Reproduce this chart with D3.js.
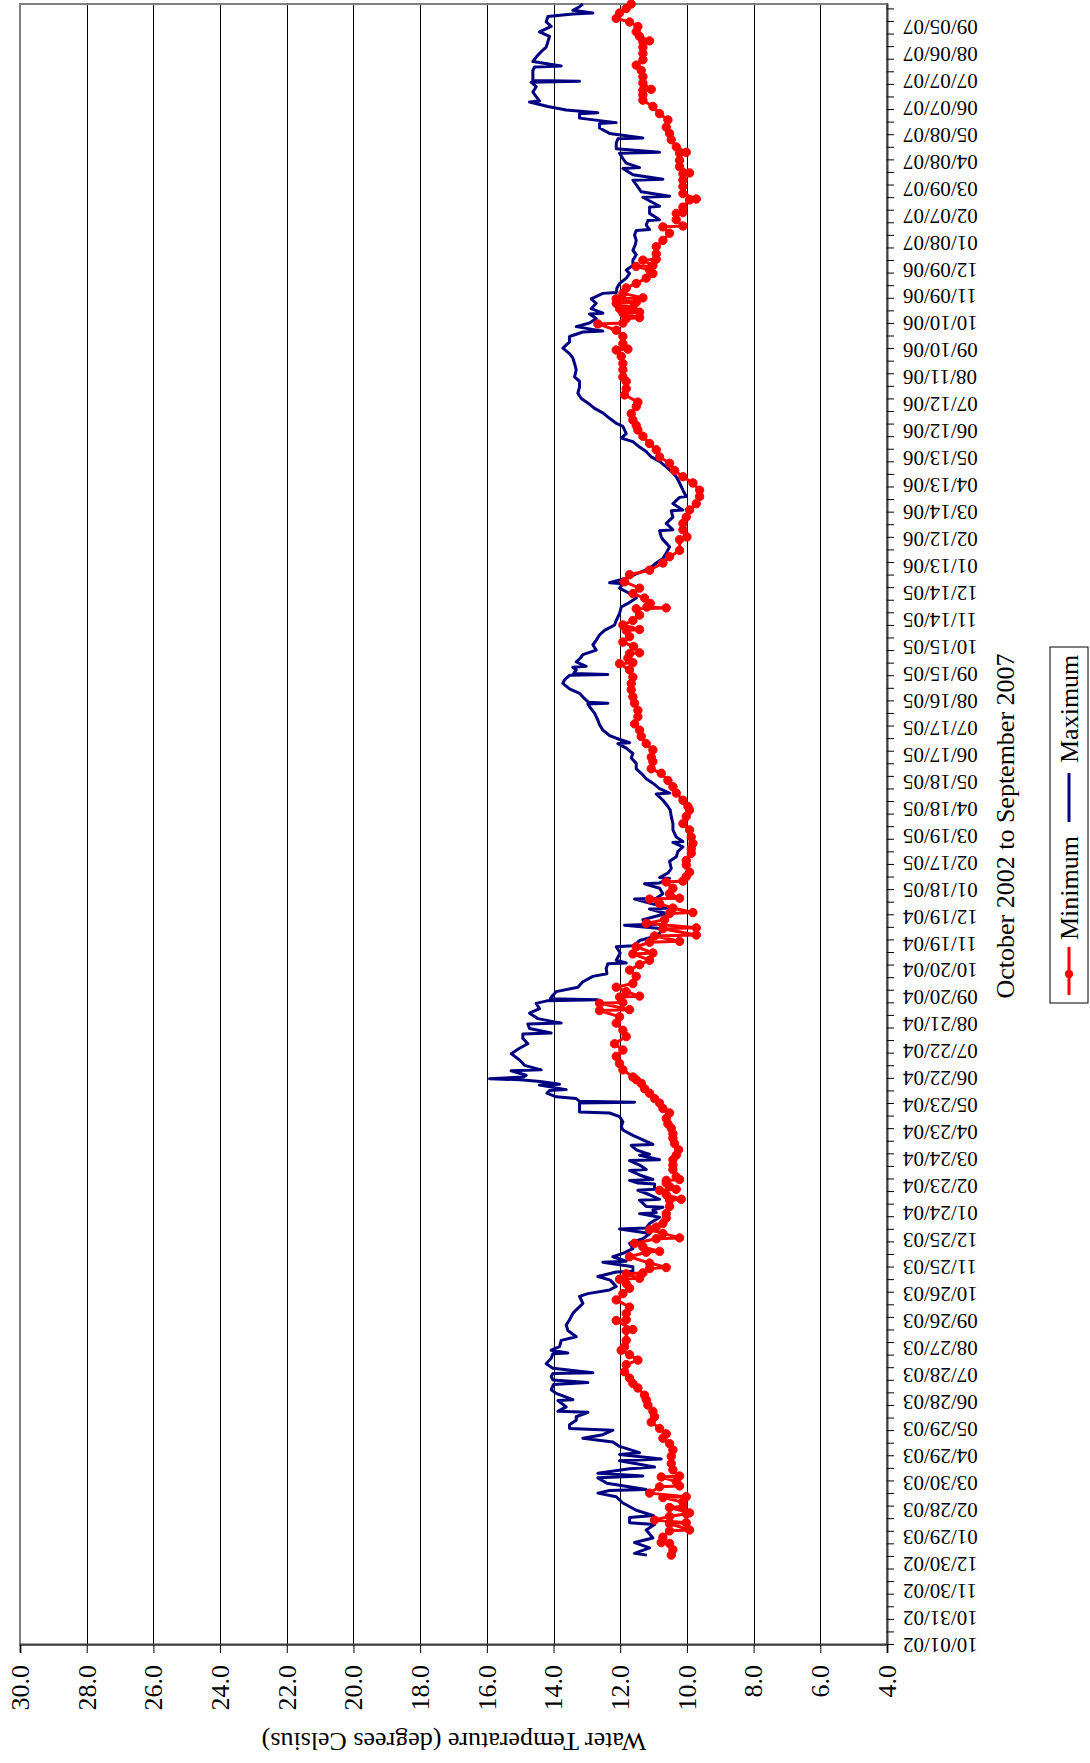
<!DOCTYPE html>
<html><head><meta charset="utf-8">
<script src="https://cdn.jsdelivr.net/npm/d3@7"></script>
<style>body{margin:0;background:#fff}svg{display:block}</style>
</head><body><svg id="c" width="1090" height="1763"></svg>
<script>
// Category axis labels (one every 30 days, day index from 10/01/02)
const dateLabels = ["10/01/02","10/31/02","11/30/02","12/30/02","01/29/03","02/28/03","03/30/03","04/29/03","05/29/03","06/28/03","07/28/03","08/27/03","09/26/03","10/26/03","11/25/03","12/25/03","01/24/04","02/23/04","03/24/04","04/23/04","05/23/04","06/22/04","07/22/04","08/21/04","09/20/04","10/20/04","11/19/04","12/19/04","01/18/05","02/17/05","03/19/05","04/18/05","05/18/05","06/17/05","07/17/05","08/16/05","09/15/05","10/15/05","11/14/05","12/14/05","01/13/06","02/12/06","03/14/06","04/13/06","05/13/06","06/12/06","07/12/06","08/11/06","09/10/06","10/10/06","11/09/06","12/09/06","01/08/07","02/07/07","03/09/07","04/08/07","05/08/07","06/07/07","07/07/07","08/06/07","09/05/07"];
const tempTicks = [4,6,8,10,12,14,16,18,20,22,24,26,28,30];
const totalDays = 1826;

// Maximum water temperature: day index (days since 10/01/02) and value
const maxDay = [100,102,108,114,119,128,134,136,142,144,150,158,165,169,172,173,180,186,188,191,196,198,205,207,212,214,221,226,230,234,239,241,245,250,254,259,260,265,272,273,280,284,290,292,295,299,302,303,308,313,319,324,325,
328,332,339,343,350,356,362,369,373,380,388,391,395,399,406,410,415,416,421,426,427,432,436,441,447,452,458,463,464,469,476,480,481,484,487,488,495,496,501,506,507,513,514,517,518,523,528,529,534,539,540,545,546,551,556,557,562,567,573,577,582,588,592,593,597,601,603,604,605,608,610,614,617,618,623,624,627,
629,630,632,634,639,640,645,651,658,664,669,675,680,681,686,691,692,697,703,708,714,717,718,719,723,727,732,738,744,747,753,758,759,762,770,777,778,781,784,788,792,797,801,802,807,814,819,820,825,830,831,836,842,847,848,853,854,859,864,872,877,883,888,893,894,899,907,914,922,
929,933,940,947,948,953,959,964,970,975,981,987,992,998,1003,1004,1009,1012,1018,1024,1029,1037,1044,1047,1048,1049,1053,1059,1064,1070,1074,1079,1080,1081,1085,1088,1089,1094,1098,1102,1107,1113,1118,1124,1129,1135,1140,1148,1155,1159,1165,1170,1176,1181,1182,1187,1192,1198,1204,1209,1215,1222,
1230,1233,1240,1241,1248,1255,1262,1263,1270,1277,1278,1285,1293,1300,1306,1311,1317,1322,1328,1333,1339,1343,1348,1356,1359,1365,1371,1376,1382,1387,1393,1400,1406,1411,1419,1426,1432,1437,1443,1450,1456,1461,1462,1467,1471,1476,1481,1482,1487,1493,1498,1504,1505,1510,1515,1521,1526,
1530,1535,1541,1547,1552,1558,1563,1569,1574,1575,1580,1585,1586,1593,1600,1601,1606,1611,1612,1617,1625,1630,1631,1636,1643,1644,1649,1654,1660,1661,1665,1671,1676,1677,1682,1688,1693,1694,1699,1704,1705,1708,1712,1717,1718,1723,1728,1734,1739,1740,1741,1745,1752,1756,1757,1762,1767,1773,1778,1784,1790,1795,1801,1806,1812,1815,1816,1819,1823,1826];
const maxTemp = [11.2,11.57,11.12,11.57,11.02,11.22,10.97,11.72,11.72,11.0,11.52,11.92,12.12,12.67,12.32,11.22,12.4,12.67,11.32,12.67,11.72,10.97,12.02,10.77,12.02,11.42,12.02,12.22,13.12,12.52,12.22,13.52,13.52,13.32,13.32,12.97,13.87,13.62,13.87,13.42,13.92,14.07,14.0,12.97,14.02,14.07,14.02,12.82,14.02,14.22,14.07,14.02,13.57,
14.07,13.82,13.77,13.32,13.57,13.62,13.52,13.42,13.32,13.12,13.22,12.97,12.32,12.12,12.3,12.67,12.12,11.62,11.62,12.52,11.82,12.22,11.9,11.62,11.72,11.32,11.1,12.02,11.22,11.12,10.82,11.42,10.92,11.02,10.72,11.22,11.42,10.82,11.12,11.47,10.97,10.97,11.47,11.72,11.02,11.42,11.72,11.22,11.42,11.72,10.82,11.42,11.12,11.52,11.67,11.02,11.32,11.62,11.92,11.97,11.92,12.02,12.32,13.22,13.22,13.22,13.22,11.57,13.22,13.32,13.92,14.2,14.12,13.62,14.42,13.82,14.4,
15.0,15.92,14.9,14.82,15.27,14.37,14.87,15.02,15.27,15.02,14.77,14.92,14.92,14.07,14.72,14.77,13.77,14.47,14.72,14.42,14.52,14.17,12.67,14.1,14.02,13.92,13.27,13.12,12.82,12.4,12.42,12.37,11.82,12.12,12.0,12.12,11.62,11.5,11.42,11.02,10.82,10.72,11.87,10.92,11.32,10.62,11.12,10.52,11.07,11.57,10.92,10.72,10.82,11.27,10.82,10.52,10.82,10.57,10.47,10.52,10.32,10.27,10.12,10.42,10.12,10.32,10.42,10.42,10.47,
10.5,10.57,10.72,10.92,10.52,10.82,11.02,11.22,11.37,11.52,11.52,11.67,11.62,11.82,12.07,11.72,12.12,12.32,12.52,12.62,12.67,12.77,12.92,12.97,12.37,12.95,13.07,13.22,13.52,13.72,13.67,13.52,12.37,13.4,13.32,13.42,13.02,13.32,13.2,13.12,12.72,12.82,12.72,12.62,12.47,12.17,12.12,12.02,11.97,11.77,11.52,11.72,12.02,11.92,12.32,11.82,11.52,11.12,10.92,10.72,10.62,10.52,
10.72,10.77,10.82,10.42,10.62,10.42,10.47,10.12,10.42,10.22,10.02,10.12,10.22,10.32,10.47,10.62,10.82,11.07,11.22,11.42,11.62,11.97,11.82,11.92,12.1,12.32,12.52,12.77,12.97,13.17,13.27,13.22,13.22,13.37,13.32,13.37,13.42,13.52,13.72,13.52,13.52,13.12,12.52,13.32,12.92,12.72,12.92,12.52,12.87,12.72,12.87,12.52,12.12,12.1,12.02,11.82,11.72,
11.82,11.62,11.62,11.52,11.62,11.55,11.52,11.57,11.52,11.12,11.22,11.17,10.82,11.12,11.12,10.82,11.07,11.32,10.52,11.37,11.52,11.62,10.72,11.62,11.92,11.42,11.82,11.92,12.02,10.82,12.12,12.12,12.07,11.32,12.32,12.62,12.62,12.12,13.22,13.22,12.67,13.62,14.17,14.72,14.42,14.52,14.62,14.52,14.67,13.22,14.62,14.62,14.62,14.57,13.77,14.62,14.52,14.37,14.22,14.17,14.12,14.42,14.07,14.22,14.17,13.42,12.82,13.42,13.22,13.12];

// Minimum water temperature: day index and value
const minDay = [100,106,113,114,120,127,128,135,136,139,143,146,147,153,154,159,164,165,169,176,177,182,187,188,195,202,210,217,224,230,235,241,248,254,260,267,273,278,286,291,297,304,312,317,323,
328,332,339,350,351,361,362,369,376,384,391,397,402,407,408,413,414,419,420,425,432,437,438,443,447,452,453,458,462,465,469,475,480,488,495,496,501,506,507,510,514,517,518,521,529,534,540,545,551,558,564,569,575,580,586,592,597,603,608,614,619,625,
629,632,640,647,655,662,669,677,684,692,699,706,707,714,715,721,722,727,732,736,744,751,757,762,769,770,777,782,783,789,790,797,798,803,807,814,815,820,825,830,831,836,842,849,850,855,860,868,873,881,886,892,899,907,914,922,
929,933,940,948,955,962,970,975,983,988,996,1003,1011,1018,1025,1033,1040,1048,1055,1063,1070,1077,1085,1092,1093,1098,1103,1104,1111,1116,1122,1129,1130,1135,1140,1146,1153,1154,1155,1159,1165,1170,1176,1183,1191,1196,1204,1211,1218,
1230,1233,1241,1248,1255,1263,1270,1278,1285,1293,1300,1307,1315,1322,1330,1337,1345,1352,1357,1363,1370,1378,1383,1391,1398,1406,1411,1419,1426,1434,1441,1442,1448,1456,1463,1470,1471,1476,1477,1482,1483,1487,1488,1493,1494,1498,1499,1504,1510,1515,1521,1526,
1530,1534,1535,1541,1542,1548,1556,1563,1571,1578,1579,1586,1593,1594,1600,1608,1609,1615,1623,1630,1637,1638,1645,1652,1660,1661,1667,1675,1682,1689,1697,1704,1712,1719,1725,1730,1731,1738,1745,1752,1758,1764,1771,1778,1784,1785,1790,1795,1801,1806,1810,1816,1821,1826];
const minTemp = [10.47,10.42,10.52,10.77,10.72,10.52,9.92,10.52,10.02,10.97,10.52,10.02,9.92,10.52,10.12,10.12,10.72,10.02,11.12,10.82,10.22,10.32,10.77,10.22,10.42,10.47,10.47,10.42,10.52,10.72,10.62,10.82,11.07,10.97,11.02,11.17,11.22,11.27,11.47,11.62,11.72,11.87,11.82,11.47,11.72,
11.97,11.87,11.82,11.82,11.62,12.12,11.82,11.82,11.72,12.12,11.92,11.72,11.82,12.02,11.42,11.82,11.32,11.12,10.62,11.12,11.72,11.22,10.82,11.32,11.57,10.92,10.22,10.72,11.12,10.92,10.72,10.62,10.62,10.52,10.52,10.17,10.62,10.82,10.32,10.52,10.62,10.62,10.22,10.32,10.42,10.42,10.42,10.32,10.25,10.37,10.42,10.42,10.47,10.57,10.62,10.52,10.72,10.82,10.97,11.12,11.27,11.37,
11.52,11.62,11.92,12.02,12.12,11.92,12.17,11.82,11.92,12.12,12.02,12.62,11.72,12.62,11.92,12.02,11.42,11.82,12.12,11.62,11.52,11.72,11.42,11.12,11.62,11.02,11.52,11.12,10.22,10.97,9.72,10.72,9.72,11.22,10.67,10.52,9.82,10.42,10.82,11.12,10.22,10.52,10.42,10.62,10.12,10.02,9.92,10.02,10.02,9.87,9.87,9.82,9.87,9.92,10.12,10.02,
9.92,9.97,10.12,10.32,10.42,10.57,10.77,11.07,11.02,11.07,11.02,11.22,11.37,11.42,11.57,11.47,11.47,11.57,11.62,11.67,11.67,11.62,11.72,12.02,11.62,11.77,11.72,11.42,11.6,11.92,11.72,11.82,11.42,11.92,11.62,11.42,11.52,10.62,11.2,11.1,11.27,11.62,11.42,11.87,11.72,11.12,10.72,10.52,10.22,
10.22,10.0,10.12,10.12,10.02,9.92,9.72,9.62,9.62,9.82,10.12,10.37,10.52,10.82,10.92,11.12,11.32,11.47,11.52,11.62,11.67,11.52,11.47,11.87,11.82,11.82,11.92,11.92,11.92,11.97,12.12,11.77,11.92,11.92,12.12,12.67,11.92,11.82,11.42,11.92,11.42,12.02,11.62,12.12,11.52,12.12,11.32,11.92,11.82,11.52,11.22,11.02,
11.12,11.52,11.02,11.32,10.92,10.92,10.92,10.72,10.52,10.72,10.12,10.32,10.32,10.12,10.12,9.92,9.72,10.12,10.12,10.12,10.12,9.92,10.22,10.22,10.22,10.02,10.32,10.47,10.52,10.62,10.57,10.82,11.02,11.32,11.32,11.32,11.07,11.32,11.32,11.37,11.52,11.32,11.32,11.32,11.32,11.12,11.42,11.52,11.47,11.72,12.12,12.02,11.82,11.67];

const maxData = maxDay.map((d,i)=>({d, t:maxTemp[i]}));
const minData = minDay.map((d,i)=>({d, t:minTemp[i]}));

const font = '"Liberation Serif","Times New Roman",Times,serif';
const svg = d3.select('#c');
// The chart is drawn in landscape and rotated a quarter turn counter-clockwise
const g = svg.append('g').attr('transform','translate(0,1763) rotate(-90)');

const x = d3.scaleLinear().domain([0,totalDays]).range([118,1759]);
const y = d3.scaleLinear().domain([4,30]).range([887,20]);

// gridlines
g.append('g').selectAll('line').data(tempTicks.filter(t=>t>4 && t<30)).join('line')
  .attr('x1',118).attr('x2',1759)
  .attr('y1',d=>Math.round(y(d))+0.5).attr('y2',d=>Math.round(y(d))+0.5)
  .attr('stroke','#000').attr('stroke-width',1);

// plot border
g.append('rect').attr('x',118).attr('y',20).attr('width',1641).attr('height',867)
  .attr('fill','none').attr('stroke','#808080').attr('stroke-width',2);

// series
const line = d3.line().x(p=>x(p.d)).y(p=>y(p.t));
g.append('path').datum(maxData).attr('d',line).attr('fill','none')
  .attr('stroke','#000080').attr('stroke-width',3).attr('stroke-linejoin','round');
g.append('path').datum(minData).attr('d',line).attr('fill','none')
  .attr('stroke','#FF0000').attr('stroke-width',3).attr('stroke-linejoin','round');
g.append('g').selectAll('circle').data(minData).join('circle')
  .attr('cx',p=>x(p.d)).attr('cy',p=>y(p.t)).attr('r',4.2)
  .attr('fill','#FF0000').attr('stroke','#FF0000').attr('stroke-width',1);

// temperature axis (screen bottom)
const ya = g.append('g').attr('transform','translate(118,0)')
  .call(d3.axisLeft(y).tickValues(tempTicks).tickFormat(d3.format('.1f')).tickSize(8).tickPadding(12));
ya.select('.domain').attr('stroke','#404040').attr('stroke-width',2);
ya.selectAll('.tick line').attr('stroke','#000');
ya.selectAll('text').attr('font-family',font).attr('font-size',26).attr('fill','#000');

// date axis (screen right): minor ticks every 14 days
const xa = g.append('g').attr('transform','translate(0,887)')
  .call(d3.axisBottom(x).tickValues(d3.range(0,totalDays+1,14)).tickFormat('').tickSize(7).tickSizeOuter(0));
xa.select('.domain').attr('stroke','#404040').attr('stroke-width',2);
xa.selectAll('.tick line').attr('stroke','#000');

const xl = g.append('g').attr('transform','translate(0,887)')
  .call(d3.axisBottom(x).tickValues(dateLabels.map((_,i)=>i*30)).tickFormat((d,i)=>dateLabels[i]).tickSize(0));
xl.select('.domain').remove();
xl.selectAll('text').attr('x',0).attr('y',0).attr('dy',null)
  .attr('transform','translate(0,16) rotate(-90)')
  .attr('text-anchor','end').attr('dominant-baseline','central')
  .attr('font-family',font).attr('font-size',21).attr('fill','#000');

// axis titles
g.append('text').attr('transform','translate(22,454) rotate(-90)')
  .attr('text-anchor','middle').attr('dominant-baseline','central')
  .attr('font-family',font).attr('font-size',26).text('Water Temperature (degrees Celsius)');
g.append('text').attr('x',937).attr('y',1005)
  .attr('text-anchor','middle').attr('dominant-baseline','central')
  .attr('font-family',font).attr('font-size',26).text('October 2002 to September 2007');

// legend
const lg = g.append('g');
lg.append('rect').attr('x',760).attr('y',1050).attr('width',356).attr('height',38)
  .attr('fill','#fff').attr('stroke','#000').attr('stroke-width',1);
lg.append('line').attr('x1',768).attr('x2',816).attr('y1',1069).attr('y2',1069)
  .attr('stroke','#FF0000').attr('stroke-width',3);
lg.append('circle').attr('cx',789).attr('cy',1069).attr('r',4.2).attr('fill','#FF0000');
lg.append('text').attr('x',823).attr('y',1069).attr('dominant-baseline','central')
  .attr('font-family',font).attr('font-size',26).text('Minimum');
lg.append('line').attr('x1',941).attr('x2',990).attr('y1',1069).attr('y2',1069)
  .attr('stroke','#000080').attr('stroke-width',3);
lg.append('text').attr('x',1000).attr('y',1069).attr('dominant-baseline','central')
  .attr('font-family',font).attr('font-size',26).text('Maximum');
</script></body></html>
